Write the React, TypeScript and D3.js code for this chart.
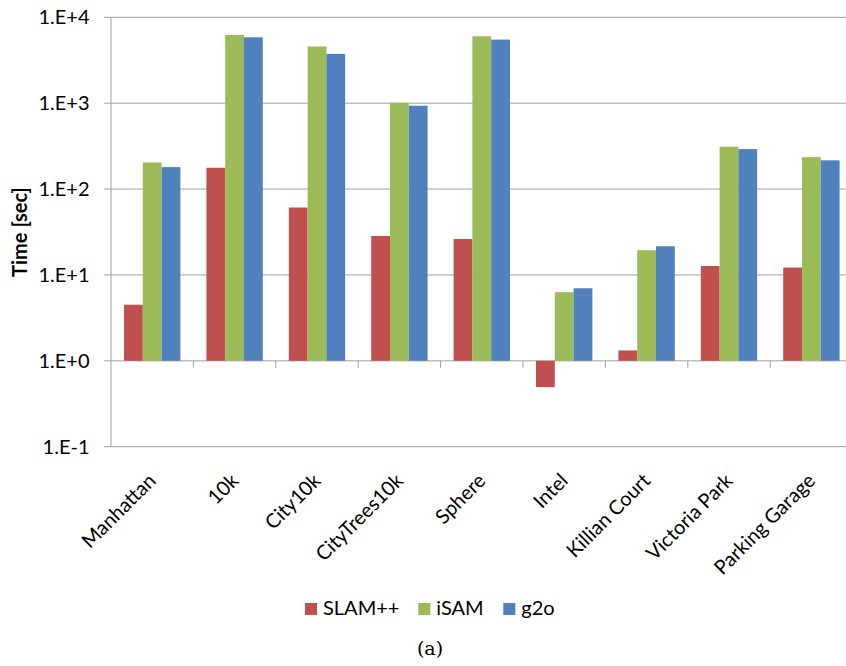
import React from "react";
import * as d3 from "d3";

const categories = ["Manhattan", "10k", "City10k", "CityTrees10k", "Sphere", "Intel", "Killian Court", "Victoria Park", "Parking Garage"];
const seriesNames = ["SLAM++", "iSAM", "g2o"];
const slamValues = [4.5, 177, 61, 28.4, 26.2, 0.494, 1.32, 12.7, 12.2];
const isamValues = [204, 6240, 4570, 1010, 6010, 6.3, 19.4, 311, 235];
const g2oValues = [180, 5850, 3750, 933, 5500, 7.0, 21.6, 292, 216];
const yTicks = [0.1, 1, 10, 100, 1000, 10000];
const yTickLabels = ["1.E-1", "1.E+0", "1.E+1", "1.E+2", "1.E+3", "1.E+4"];
const colors = ["#C0504D", "#9BBB59", "#4F81BD"];

const W = 846;
const H = 666;
const plotLeft = 111;
const plotRight = 852.6;
const plotTop = 17.3;
const plotBottom = 446.7;
const FONT = "Lato, 'Open Sans', sans-serif";

export default function App() {
  const series = [slamValues, isamValues, g2oValues];
  const x = d3.scaleBand<string>().domain(categories).range([plotLeft, plotRight]).padding(0);
  const y = d3.scaleLog().domain([0.1, 10000]).range([plotBottom, plotTop]);
  const bw = x.bandwidth() * 0.228;
  const inner = d3.scaleBand<number>().domain([0, 1, 2]).range([0, bw * 3]).padding(0);
  const base = y(1);
  const gridColor = "#a0a0a0";
  const legendX = [305, 418.3, 503.3];

  return (
    <svg width={W} height={H} style={{ position: "absolute", left: 0, top: 0, background: "#fff" }}>
      <rect x={0} y={0} width={W} height={H} fill="#fff" />
      {yTicks.map((t) => (
        <line key={"g" + t} x1={plotLeft - 7} x2={W} y1={y(t)} y2={y(t)} stroke={gridColor} strokeWidth={1} />
      ))}
      <line x1={plotLeft} x2={plotLeft} y1={plotTop} y2={plotBottom} stroke={gridColor} strokeWidth={1} />
      {categories.slice(1).map((c) => (
        <line key={"t" + c} x1={x(c)!} x2={x(c)!} y1={base} y2={base + 7} stroke={gridColor} strokeWidth={1} />
      ))}
      {series.map((vals, si) =>
        vals.map((v, ci) => {
          const cx = x(categories[ci])! + x.bandwidth() / 2 - (bw * 3) / 2 + inner(si)!;
          const yv = y(v);
          return (
            <rect
              key={si + "-" + ci}
              x={cx}
              y={Math.min(yv, base)}
              width={inner.bandwidth()}
              height={Math.abs(base - yv)}
              fill={colors[si]}
            />
          );
        })
      )}
      {yTicks.map((t, i) => (
        <text key={"l" + t} x={89.5} y={y(t)} dy="0.35em" textAnchor="end" fontFamily={FONT} fontSize={20} fill="#000">
          {yTickLabels[i]}
        </text>
      ))}
      <text
        transform={`translate(27,${(plotTop + plotBottom) / 2}) rotate(-90)`}
        textAnchor="middle"
        fontFamily={FONT}
        fontWeight="bold"
        fontSize={20}
        fill="#000"
      >
        Time [sec]
      </text>
      {categories.map((c) => {
        const ax = x(c)! + x.bandwidth() / 2 + 5;
        const ay = 482;
        return (
          <text
            key={"x" + c}
            transform={`translate(${ax},${ay}) rotate(-45)`}
            textAnchor="end"
            fontFamily={FONT}
            fontSize={20}
            fill="#000"
          >
            {c}
          </text>
        );
      })}
      {seriesNames.map((n, i) => (
        <g key={"lg" + n}>
          <rect x={legendX[i]} y={603} width={12} height={12} fill={colors[i]} />
          <text x={legendX[i] + 18} y={615} fontFamily={FONT} fontSize={20} fill="#000">
            {n}
          </text>
        </g>
      ))}
      <text x={430} y={655} textAnchor="middle" fontFamily="'DejaVu Serif', serif" fontSize={19} fill="#000">
        (a)
      </text>
    </svg>
  );
}
